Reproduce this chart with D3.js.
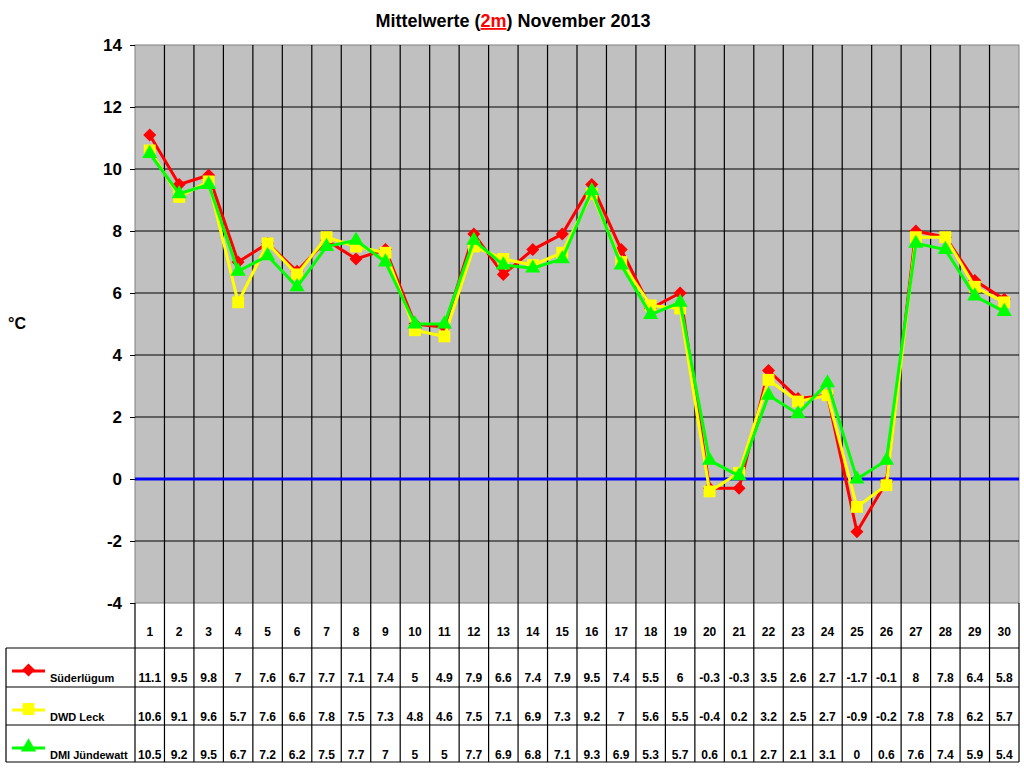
<!DOCTYPE html>
<html>
<head>
<meta charset="utf-8">
<script src="https://cdn.jsdelivr.net/npm/d3@7"></script>
<style>
  body { margin: 0; background: #fff; }
  text { font-family: "Liberation Sans", Arial, sans-serif; font-weight: bold; }
</style>
</head>
<body>
<div class="chart"></div>
<script>
const days = d3.range(1, 31)
const seriesNames = ["Süderlügum", "DWD Leck", "DMI Jündewatt"]
const seriesColors = ["#ff0000", "#ffff00", "#00ff00"]
const suederluegum = [11.1, 9.5, 9.8, 7, 7.6, 6.7, 7.7, 7.1, 7.4, 5, 4.9, 7.9, 6.6, 7.4, 7.9, 9.5, 7.4, 5.5, 6, -0.3, -0.3, 3.5, 2.6, 2.7, -1.7, -0.1, 8, 7.8, 6.4, 5.8]
const dwdLeck = [10.6, 9.1, 9.6, 5.7, 7.6, 6.6, 7.8, 7.5, 7.3, 4.8, 4.6, 7.5, 7.1, 6.9, 7.3, 9.2, 7, 5.6, 5.5, -0.4, 0.2, 3.2, 2.5, 2.7, -0.9, -0.2, 7.8, 7.8, 6.2, 5.7]
const dmiJuendewatt = [10.5, 9.2, 9.5, 6.7, 7.2, 6.2, 7.5, 7.7, 7, 5, 5, 7.7, 6.9, 6.8, 7.1, 9.3, 6.9, 5.3, 5.7, 0.6, 0.1, 2.7, 2.1, 3.1, 0, 0.6, 7.6, 7.4, 5.9, 5.4]
const yTicks = [-4, -2, 0, 2, 4, 6, 8, 10, 12, 14]

const allSeries = [suederluegum, dwdLeck, dmiJuendewatt]
// diamond = square turned by 45 degrees
const symbols = [d3.symbolSquare, d3.symbolSquare, d3.symbolTriangle]
const symbolSizes = [85, 140, 100]
const symbolTurn = [45, 0, 0]

const width = 1024
const height = 768
const plotLeft = 135, plotRight = 1019, plotTop = 45, plotBottom = 603
const rowLines = [603, 648, 687, 725, 762]

const svg = d3.select(".chart").append("svg")
    .attr("width", width)
    .attr("height", height)

const x = d3.scaleBand().domain(days).range([plotLeft, plotRight])
const y = d3.scaleLinear().domain([-4, 14]).range([plotBottom, plotTop])

// plot area
svg.append("rect")
    .attr("x", plotLeft).attr("y", plotTop)
    .attr("width", plotRight - plotLeft).attr("height", plotBottom - plotTop)
    .attr("fill", "#c0c0c0")
    .attr("stroke", "#808080")

// horizontal grid
svg.append("g")
    .selectAll("line")
    .data(yTicks.filter(d => d > -4 && d < 14 && d !== 0))
    .join("line")
    .attr("x1", plotLeft).attr("x2", plotRight)
    .attr("y1", d => y(d)).attr("y2", d => y(d))
    .attr("stroke", "#000").attr("stroke-width", 1.2)

// vertical grid / column lines through the table
svg.append("g")
    .selectAll("line")
    .data(days.slice(1))
    .join("line")
    .attr("x1", d => x(d)).attr("x2", d => x(d))
    .attr("y1", plotTop).attr("y2", rowLines[4])
    .attr("stroke", "#000").attr("stroke-width", 1.2)

// zero line
svg.append("line")
    .attr("x1", plotLeft).attr("x2", plotRight)
    .attr("y1", y(0)).attr("y2", y(0))
    .attr("stroke", "#0000ff").attr("stroke-width", 3)

// y axis
const yAxis = svg.append("g")
    .attr("transform", `translate(${plotLeft},0)`)
    .call(d3.axisLeft(y).tickValues(yTicks).tickSize(5).tickPadding(8).tickFormat(d => d))
yAxis.select(".domain").remove()
yAxis.selectAll("line").attr("stroke", "#000")
yAxis.selectAll("text").style("font-size", "17px").attr("fill", "#000")
    .attr("font-family", "Liberation Sans, Arial, sans-serif").attr("font-weight", "bold")

svg.append("text")
    .attr("x", 8).attr("y", 329)
    .style("font-size", "16px")
    .text("°C")

// title
const title = svg.append("text")
    .attr("x", 513).attr("y", 27)
    .attr("text-anchor", "middle")
    .style("font-size", "18px")
title.append("tspan").text("Mittelwerte (")
title.append("tspan").attr("fill", "#ff0000").attr("text-decoration", "underline").text("2m")
title.append("tspan").text(") November 2013")

// table borders
svg.append("g")
    .selectAll("line")
    .data(rowLines.slice(1))
    .join("line")
    .attr("x1", 6).attr("x2", plotRight)
    .attr("y1", d => d).attr("y2", d => d)
    .attr("stroke", "#000").attr("stroke-width", 1.2)
svg.append("line")
    .attr("x1", 6).attr("x2", 6).attr("y1", rowLines[1]).attr("y2", rowLines[4])
    .attr("stroke", "#000").attr("stroke-width", 1.2)
svg.append("line")
    .attr("x1", plotLeft).attr("x2", plotLeft).attr("y1", plotBottom).attr("y2", rowLines[4])
    .attr("stroke", "#000").attr("stroke-width", 1.2)
svg.append("line")
    .attr("x1", plotRight).attr("x2", plotRight).attr("y1", plotBottom).attr("y2", rowLines[4])
    .attr("stroke", "#000").attr("stroke-width", 1.2)

// header day numbers
svg.append("g")
    .selectAll("text")
    .data(days)
    .join("text")
    .attr("x", d => x(d) + x.bandwidth() / 2)
    .attr("y", 636)
    .attr("text-anchor", "middle")
    .style("font-size", "12px")
    .text(d => d)

// series lines and markers
const line = d3.line().x((d, i) => x(days[i]) + x.bandwidth() / 2).y(d => y(d))

allSeries.forEach((vals, s) => {
    const sym = d3.symbol().type(symbols[s]).size(symbolSizes[s])
    svg.append("path")
        .datum(vals)
        .attr("d", line)
        .attr("fill", "none")
        .attr("stroke", seriesColors[s])
        .attr("stroke-width", 3)
    svg.append("g")
        .selectAll("path")
        .data(vals)
        .join("path")
        .attr("transform", (d, i) => `translate(${x(days[i]) + x.bandwidth() / 2},${y(d)}) rotate(${symbolTurn[s]})`)
        .attr("d", sym)
        .attr("fill", seriesColors[s])

    const rowBase = rowLines[s + 1] + 34
    // legend key
    svg.append("line")
        .attr("x1", 12).attr("x2", 45)
        .attr("y1", rowBase - 11).attr("y2", rowBase - 11)
        .attr("stroke", seriesColors[s]).attr("stroke-width", 3)
    svg.append("path")
        .attr("transform", `translate(28.5,${rowBase - 12}) rotate(${symbolTurn[s]})`)
        .attr("d", sym)
        .attr("fill", seriesColors[s])
    svg.append("text")
        .attr("x", 50).attr("y", rowBase)
        .style("font-size", "11px")
        .text(seriesNames[s])
    // values
    svg.append("g")
        .selectAll("text")
        .data(vals)
        .join("text")
        .attr("x", (d, i) => x(days[i]) + x.bandwidth() / 2)
        .attr("y", rowBase)
        .attr("text-anchor", "middle")
        .style("font-size", "12px")
        .text(d => d)
})
</script>
</body>
</html>
